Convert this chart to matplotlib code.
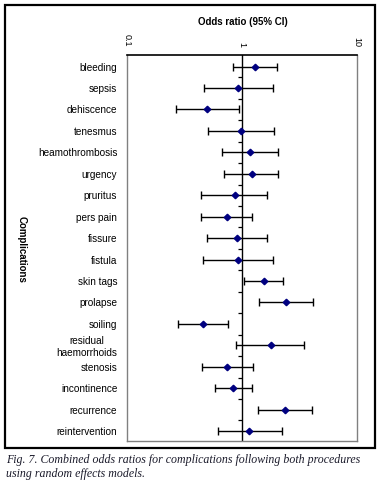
import numpy as np
import matplotlib
matplotlib.use("Agg")
import matplotlib.pyplot as plt
from matplotlib.patches import Rectangle

# odds ratios with 95% CI
complications = ["bleeding", "sepsis", "dehiscence", "tenesmus", "heamothrombosis",
                 "urgency", "pruritus", "pers pain", "fissure", "fistula",
                 "skin tags", "prolapse", "soiling", "residual\nhaemorrhoids",
                 "stenosis", "incontinence", "recurrence", "reintervention"]
odds_ratio = [1.31, 0.92, 0.50, 0.99, 1.17, 1.21, 0.87, 0.74, 0.91, 0.92,
              1.55, 2.41, 0.455, 1.80, 0.745, 0.84, 2.35, 1.16]
ci_low = [0.835, 0.47, 0.265, 0.51, 0.67, 0.70, 0.44, 0.44, 0.50, 0.46,
          1.05, 1.41, 0.28, 0.89, 0.45, 0.58, 1.39, 0.62]
ci_high = [2.03, 1.85, 0.94, 1.91, 2.06, 2.06, 1.66, 1.22, 1.66, 1.85,
           2.26, 4.17, 0.75, 3.48, 1.25, 1.23, 4.09, 2.21]
xticks = [0.1, 1, 10]

plt.rcParams['font.family'] = ['Liberation Sans', 'DejaVu Sans']

fig = plt.figure(figsize=(3.8, 4.84), dpi=100)
ax = fig.add_axes([127/380, 1-441/484, 230/380, 386/484])

y = np.arange(len(complications))
or_ = np.array(odds_ratio)
err = [or_ - np.array(ci_low), np.array(ci_high) - or_]
ax.errorbar(or_, y, xerr=err, fmt='none', ecolor='black', elinewidth=1.0,
            capsize=3, capthick=1.0, zorder=3)
ax.plot(or_, y, 'D', color='#000080', ms=3.3, zorder=4)

# reference line at OR = 1 with small ticks between rows
ax.axvline(1, color='black', lw=1.0, zorder=2)
bounds = np.arange(len(complications) - 1) + 0.5
ax.plot(np.ones_like(bounds), bounds, ls='none', marker=0, ms=3,
        mew=0.9, color='black', zorder=2)

ax.set_xscale('log')
ax.set_xlim(0.1, 10)
ax.set_ylim(len(complications) - 0.54, -0.54)
ax.xaxis.tick_top()
ax.set_xticks(xticks)
ax.set_xticklabels(["0.1", "1", "10"], rotation=-90, fontsize=6.5, va='bottom')
ax.xaxis.set_minor_locator(matplotlib.ticker.NullLocator())
ax.tick_params(axis='x', length=0, pad=6)
ax.set_yticks(y)
ax.set_yticklabels(complications, fontsize=7.2, multialignment='center')
ax.tick_params(axis='y', length=0, pad=7)

for side in ['left', 'right', 'bottom']:
    ax.spines[side].set_color('#808080')
    ax.spines[side].set_linewidth(1.0)
ax.spines['top'].set_color('black')
ax.spines['top'].set_linewidth(1.2)

fig.text(243/380, 1-22/484, "Odds ratio (95% CI)", fontsize=7, fontweight='bold',
         ha='center', va='center')
fig.text(22/380, 1-249/484, "Complications", fontsize=7, fontweight='bold',
         rotation=-90, ha='center', va='center')

# outer frame
fig.patches.append(Rectangle((5/380, 1-448/484), 370/380, 443/484,
                             transform=fig.transFigure, fill=False,
                             edgecolor='black', lw=1.6))

fig.text(6/380, 1-467/484,
         "Fig. 7. Combined odds ratios for complications following both procedures\nusing random effects models.",
         fontsize=8.6, family='Liberation Serif', style='italic', color='#1a1a2a',
         ha='left', va='center', linespacing=1.3)

fig.savefig("out.png", dpi=100)
